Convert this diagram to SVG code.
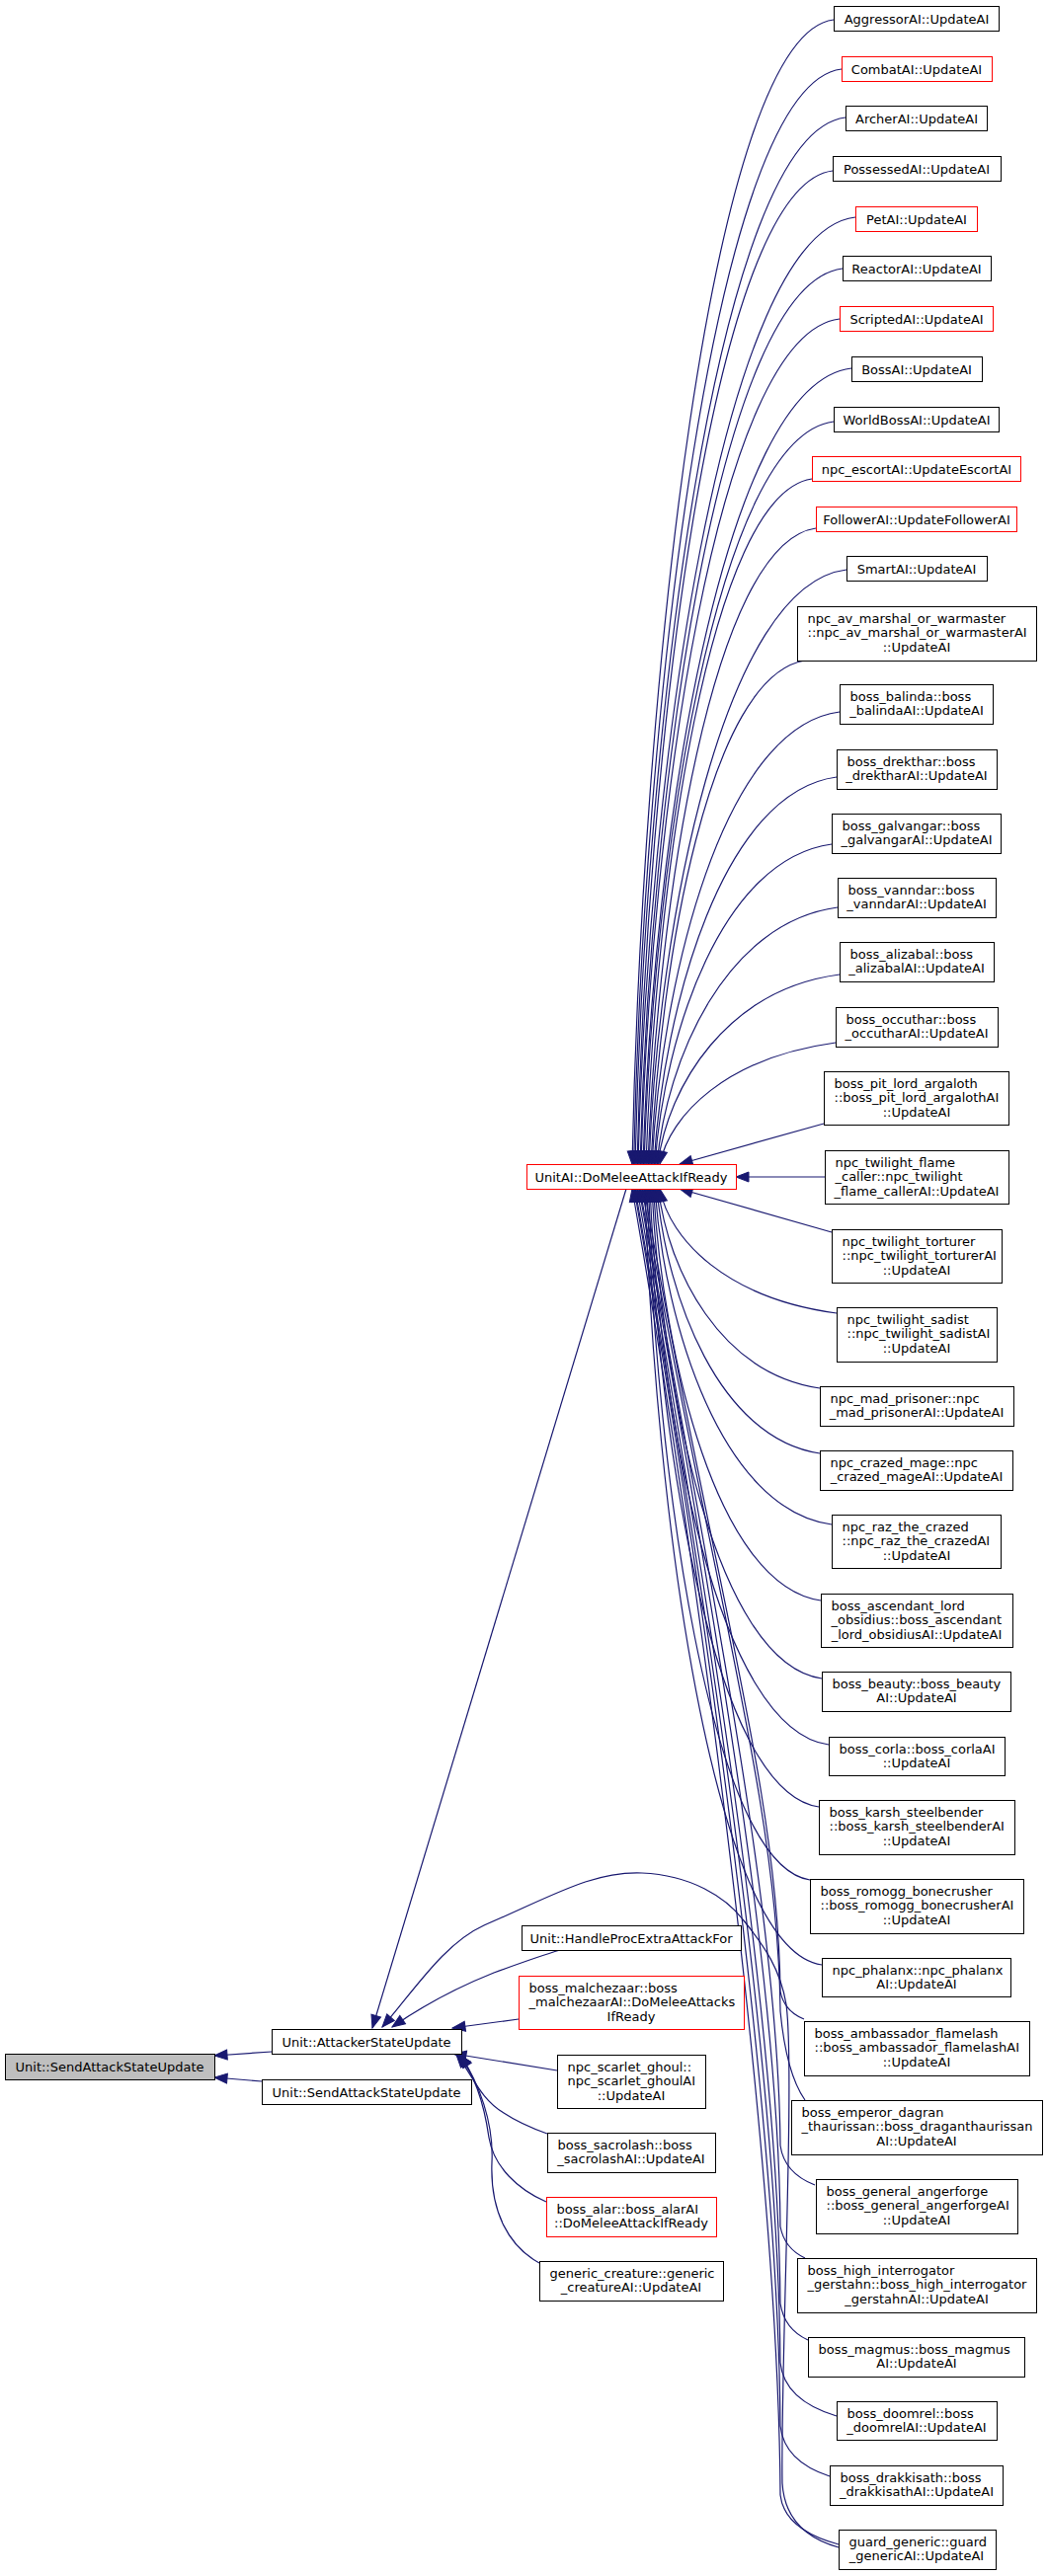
<svg xmlns="http://www.w3.org/2000/svg" width="1060" height="2609" viewBox="0 0 1060 2609">
<defs>
<marker id="ah" markerUnits="userSpaceOnUse" markerWidth="14" markerHeight="10" viewBox="0 0 14 10" refX="13" refY="5" orient="auto-start-reverse" overflow="visible">
<path d="M0,0 L13,5 L0,10 z" fill="#191970" stroke="#191970" stroke-width="1"/>
</marker>
</defs>
<style>
text{font-family:"DejaVu Sans","Liberation Sans",sans-serif;font-size:13px;fill:#000}
.t{text-anchor:middle}
.s{text-anchor:start}
.b{fill:#fff;stroke:#000;stroke-width:1}
.r{fill:#fff;stroke:#ff0000;stroke-width:1}
.g{fill:#bfbfbf;stroke:#000;stroke-width:1}
.e{fill:none;stroke:#191970;stroke-width:1.2;marker-start:url(#ah)}
</style>
<rect width="1060" height="2609" fill="#fff"/>
<g id="edges">
<path class="e" d="M640,1179 C650,704 718,35 844,20"/>
<path class="e" d="M641.6,1179 C651.6,724 722,85 852,70"/>
<path class="e" d="M643,1179 C653,744 724,134 856,119"/>
<path class="e" d="M645,1179 C655,767 720,188 843,173"/>
<path class="e" d="M646,1179 C656,786 730,235 866,220"/>
<path class="e" d="M648,1179 C658,807 726,287 853,272"/>
<path class="e" d="M649,1179 C659,828 725,338 850,323"/>
<path class="e" d="M651,1179 C661,849 731,388 862,373"/>
<path class="e" d="M652,1179 C662,871 725,442 844,427"/>
<path class="e" d="M654,1179 C664,894 718,500 822,485"/>
<path class="e" d="M656,1179 C666,915 721,550 826,535"/>
<path class="e" d="M657,1179 C667,932 733,592 857,577"/>
<path class="e" d="M659,1179 C669,970 718,684 815,669"/>
<path class="e" d="M660,1179 C670,991 732,736 850,721"/>
<path class="e" d="M662,1179 C672,1018 732,802 847,787"/>
<path class="e" d="M663,1179 C673,1046 731,870 842,855"/>
<path class="e" d="M665,1179 C675,1072 735,934 848,919"/>
<path class="e" d="M666,1179 C676,1100 736,1002 850,987"/>
<path class="e" d="M668,1179 C678,1129 736,1071 846,1056"/>
<path class="e" d="M688,1179 L834,1138"/>
<path class="e" d="M745,1192 L835,1192"/>
<path class="e" d="M688,1204 L842,1248"/>
<path class="e" d="M640,1204 C710,1604 788,2196 790,2527 Q794,2562 849,2577"/>
<path class="e" d="M642,1204 C712,1604 788,2144 790,2457 Q794,2493 840,2508"/>
<path class="e" d="M643,1204 C713,1604 788,2096 790,2393 Q794,2431 847,2447"/>
<path class="e" d="M645,1204 C715,1604 788,2051 790,2333 Q794,2359 818,2370"/>
<path class="e" d="M647,1204 C717,1604 788,1992 790,2255 Q794,2277 815,2287"/>
<path class="e" d="M648,1204 C718,1604 788,1931 790,2173 Q794,2201 825,2213"/>
<path class="e" d="M650,1204 C720,1604 788,1829 790,2037 Q796,2100 815,2127"/>
<path class="e" d="M652,1204 C722,1604 788,1814 790,2017 Q794,2037 814,2045"/>
<path class="e" d="M653,1204 C663,1526 721,1975 832,1990"/>
<path class="e" d="M655,1204 C665,1491 718,1889 820,1904"/>
<path class="e" d="M656.5,1204 C666.5,1461 722,1815 829,1830"/>
<path class="e" d="M658,1204 C668,1435 727,1752 839,1767"/>
<path class="e" d="M660,1204 C670,1407 725,1685 832,1700"/>
<path class="e" d="M661.5,1204 C671.5,1375 726,1606 831,1621"/>
<path class="e" d="M663,1204 C673,1343 731,1529 842,1544"/>
<path class="e" d="M665,1204 C675,1314 728,1457 830,1472"/>
<path class="e" d="M666.5,1204 C676.5,1287 729,1391 830,1406"/>
<path class="e" d="M668,1204 C678,1256 736,1315 847,1330"/>
<path class="e" d="M377,2054 L634,1204"/>
<path class="e" d="M387,2053 C420,2015 450,1968 490,1950 C560,1920 600,1895 650,1897 C700,1899 735,1922 752,1944 C775,1972 790,1995 796,2030 C805,2100 790,2400 792,2515 Q795,2565 849,2580"/>
<path class="e" d="M397,2053 C430,2030 470,2010 500,1998 C530,1987 550,1980 567,1975"/>
<path class="e" d="M458,2054 L525,2045"/>
<path class="e" d="M459,2080 L564,2097"/>
<path class="e" d="M462,2081 C478,2100 485,2125 510,2140 C525,2150 540,2156 554,2161"/>
<path class="e" d="M464,2081 C480,2100 490,2130 495,2165 C500,2195 525,2218 553,2230"/>
<path class="e" d="M466,2081 C485,2110 500,2150 498,2190 C496,2240 515,2275 546,2292"/>
<path class="e" d="M217,2082 L275,2078"/>
<path class="e" d="M217,2104 L265,2108"/>
</g>
<g id="n_root"><rect class="g" x="5.5" y="2080.5" width="212" height="26"/><text class="t" x="111" y="2098">Unit::SendAttackStateUpdate</text></g>
<g id="n_attacker"><rect class="b" x="275.5" y="2055.5" width="192" height="25"/><text class="t" x="371" y="2072.5">Unit::AttackerStateUpdate</text></g>
<g id="n_send2"><rect class="b" x="265.5" y="2106.5" width="212" height="25"/><text class="t" x="371" y="2123.5">Unit::SendAttackStateUpdate</text></g>
<g id="n_domelee"><rect class="r" x="533.5" y="1179.5" width="212" height="25"/><text class="t" x="639" y="1196.5">UnitAI::DoMeleeAttackIfReady</text></g>
<g id="n_handleproc"><rect class="b" x="528.5" y="1950.5" width="222" height="25"/><text class="t" x="639" y="1967.5">Unit::HandleProcExtraAttackFor</text></g>
<g id="n_malchezaar"><rect class="r" x="525.5" y="2001.5" width="228" height="54"/><text class="s" x="535.5" y="2017.5">boss_malchezaar::boss</text><text class="s" x="535.5" y="2032">_malchezaarAI::DoMeleeAttacks</text><text class="t" x="639" y="2046.5">IfReady</text></g>
<g id="n_scarlet"><rect class="b" x="564.5" y="2081.5" width="150" height="54"/><text class="s" x="574.5" y="2097.5">npc_scarlet_ghoul::</text><text class="s" x="574.5" y="2112">npc_scarlet_ghoulAI</text><text class="t" x="639" y="2126.5">::UpdateAI</text></g>
<g id="n_sacrolash"><rect class="b" x="554.5" y="2160.5" width="170" height="40"/><text class="s" x="564.5" y="2176.5">boss_sacrolash::boss</text><text class="t" x="639" y="2191">_sacrolashAI::UpdateAI</text></g>
<g id="n_alar"><rect class="r" x="553.5" y="2225.5" width="172" height="40"/><text class="s" x="563.5" y="2241.5">boss_alar::boss_alarAI</text><text class="t" x="639" y="2256">::DoMeleeAttackIfReady</text></g>
<g id="n_generic"><rect class="b" x="546.5" y="2290.5" width="186" height="40"/><text class="s" x="556.5" y="2306.5">generic_creature::generic</text><text class="t" x="639" y="2321">_creatureAI::UpdateAI</text></g>
<g id="n_aggressor"><rect class="b" x="844.5" y="6.5" width="167" height="25"/><text class="t" x="928" y="23.5">AggressorAI::UpdateAI</text></g>
<g id="n_combat"><rect class="r" x="852.5" y="57.5" width="152" height="25"/><text class="t" x="928" y="74.5">CombatAI::UpdateAI</text></g>
<g id="n_archer"><rect class="b" x="856.5" y="107.5" width="143" height="25"/><text class="t" x="928" y="124.5">ArcherAI::UpdateAI</text></g>
<g id="n_possessed"><rect class="b" x="843.5" y="158.5" width="170" height="25"/><text class="t" x="928" y="175.5">PossessedAI::UpdateAI</text></g>
<g id="n_pet"><rect class="r" x="866.5" y="209.5" width="123" height="25"/><text class="t" x="928" y="226.5">PetAI::UpdateAI</text></g>
<g id="n_reactor"><rect class="b" x="853.5" y="259.5" width="150" height="25"/><text class="t" x="928" y="276.5">ReactorAI::UpdateAI</text></g>
<g id="n_scripted"><rect class="r" x="850.5" y="310.5" width="155" height="25"/><text class="t" x="928" y="327.5">ScriptedAI::UpdateAI</text></g>
<g id="n_boss"><rect class="b" x="862.5" y="361.5" width="132" height="25"/><text class="t" x="928" y="378.5">BossAI::UpdateAI</text></g>
<g id="n_worldboss"><rect class="b" x="844.5" y="412.5" width="167" height="25"/><text class="t" x="928" y="429.5">WorldBossAI::UpdateAI</text></g>
<g id="n_escort"><rect class="r" x="822.5" y="462.5" width="211" height="25"/><text class="t" x="928" y="479.5">npc_escortAI::UpdateEscortAI</text></g>
<g id="n_follower"><rect class="r" x="826.5" y="513.5" width="203" height="25"/><text class="t" x="928" y="530.5">FollowerAI::UpdateFollowerAI</text></g>
<g id="n_smart"><rect class="b" x="857.5" y="563.5" width="142" height="25"/><text class="t" x="928" y="580.5">SmartAI::UpdateAI</text></g>
<g id="n_avmarshal"><rect class="b" x="807.5" y="614.5" width="242" height="55"/><text class="s" x="817.5" y="630.5">npc_av_marshal_or_warmaster</text><text class="s" x="817.5" y="645">::npc_av_marshal_or_warmasterAI</text><text class="t" x="928" y="659.5">::UpdateAI</text></g>
<g id="n_balinda"><rect class="b" x="850.5" y="693.5" width="155" height="40"/><text class="s" x="860.5" y="709.5">boss_balinda::boss</text><text class="t" x="928" y="724">_balindaAI::UpdateAI</text></g>
<g id="n_drekthar"><rect class="b" x="847.5" y="759.5" width="162" height="40"/><text class="s" x="857.5" y="775.5">boss_drekthar::boss</text><text class="t" x="928" y="790">_drektharAI::UpdateAI</text></g>
<g id="n_galvangar"><rect class="b" x="842.5" y="824.5" width="171" height="40"/><text class="s" x="852.5" y="840.5">boss_galvangar::boss</text><text class="t" x="928" y="855">_galvangarAI::UpdateAI</text></g>
<g id="n_vanndar"><rect class="b" x="848.5" y="889.5" width="160" height="40"/><text class="s" x="858.5" y="905.5">boss_vanndar::boss</text><text class="t" x="928" y="920">_vanndarAI::UpdateAI</text></g>
<g id="n_alizabal"><rect class="b" x="850.5" y="954.5" width="156" height="40"/><text class="s" x="860.5" y="970.5">boss_alizabal::boss</text><text class="t" x="928" y="985">_alizabalAI::UpdateAI</text></g>
<g id="n_occuthar"><rect class="b" x="846.5" y="1020.5" width="164" height="40"/><text class="s" x="856.5" y="1036.5">boss_occuthar::boss</text><text class="t" x="928" y="1051">_occutharAI::UpdateAI</text></g>
<g id="n_pitlord"><rect class="b" x="834.5" y="1085.5" width="187" height="54"/><text class="s" x="844.5" y="1101.5">boss_pit_lord_argaloth</text><text class="s" x="844.5" y="1116">::boss_pit_lord_argalothAI</text><text class="t" x="928" y="1130.5">::UpdateAI</text></g>
<g id="n_flamecaller"><rect class="b" x="835.5" y="1165.5" width="186" height="54"/><text class="s" x="845.5" y="1181.5">npc_twilight_flame</text><text class="s" x="845.5" y="1196">_caller::npc_twilight</text><text class="t" x="928" y="1210.5">_flame_callerAI::UpdateAI</text></g>
<g id="n_torturer"><rect class="b" x="842.5" y="1245.5" width="172" height="54"/><text class="s" x="852.5" y="1261.5">npc_twilight_torturer</text><text class="s" x="852.5" y="1276">::npc_twilight_torturerAI</text><text class="t" x="928" y="1290.5">::UpdateAI</text></g>
<g id="n_sadist"><rect class="b" x="847.5" y="1324.5" width="162" height="55"/><text class="s" x="857.5" y="1340.5">npc_twilight_sadist</text><text class="s" x="857.5" y="1355">::npc_twilight_sadistAI</text><text class="t" x="928" y="1369.5">::UpdateAI</text></g>
<g id="n_madprisoner"><rect class="b" x="830.5" y="1404.5" width="196" height="40"/><text class="s" x="840.5" y="1420.5">npc_mad_prisoner::npc</text><text class="t" x="928" y="1435">_mad_prisonerAI::UpdateAI</text></g>
<g id="n_crazedmage"><rect class="b" x="830.5" y="1469.5" width="195" height="40"/><text class="s" x="840.5" y="1485.5">npc_crazed_mage::npc</text><text class="t" x="928" y="1500">_crazed_mageAI::UpdateAI</text></g>
<g id="n_raz"><rect class="b" x="842.5" y="1534.5" width="171" height="54"/><text class="s" x="852.5" y="1550.5">npc_raz_the_crazed</text><text class="s" x="852.5" y="1565">::npc_raz_the_crazedAI</text><text class="t" x="928" y="1579.5">::UpdateAI</text></g>
<g id="n_obsidius"><rect class="b" x="831.5" y="1614.5" width="194" height="54"/><text class="s" x="841.5" y="1630.5">boss_ascendant_lord</text><text class="s" x="841.5" y="1645">_obsidius::boss_ascendant</text><text class="t" x="928" y="1659.5">_lord_obsidiusAI::UpdateAI</text></g>
<g id="n_beauty"><rect class="b" x="832.5" y="1693.5" width="191" height="40"/><text class="s" x="842.5" y="1709.5">boss_beauty::boss_beauty</text><text class="t" x="928" y="1724">AI::UpdateAI</text></g>
<g id="n_corla"><rect class="b" x="839.5" y="1759.5" width="178" height="39"/><text class="s" x="849.5" y="1775.5">boss_corla::boss_corlaAI</text><text class="t" x="928" y="1790">::UpdateAI</text></g>
<g id="n_karsh"><rect class="b" x="829.5" y="1823.5" width="198" height="55"/><text class="s" x="839.5" y="1839.5">boss_karsh_steelbender</text><text class="s" x="839.5" y="1854">::boss_karsh_steelbenderAI</text><text class="t" x="928" y="1868.5">::UpdateAI</text></g>
<g id="n_romogg"><rect class="b" x="820.5" y="1903.5" width="216" height="55"/><text class="s" x="830.5" y="1919.5">boss_romogg_bonecrusher</text><text class="s" x="830.5" y="1934">::boss_romogg_bonecrusherAI</text><text class="t" x="928" y="1948.5">::UpdateAI</text></g>
<g id="n_phalanx"><rect class="b" x="832.5" y="1983.5" width="191" height="39"/><text class="s" x="842.5" y="1999.5">npc_phalanx::npc_phalanx</text><text class="t" x="928" y="2014">AI::UpdateAI</text></g>
<g id="n_ambassador"><rect class="b" x="814.5" y="2047.5" width="228" height="55"/><text class="s" x="824.5" y="2063.5">boss_ambassador_flamelash</text><text class="s" x="824.5" y="2078">::boss_ambassador_flamelashAI</text><text class="t" x="928" y="2092.5">::UpdateAI</text></g>
<g id="n_emperor"><rect class="b" x="801.5" y="2127.5" width="254" height="55"/><text class="s" x="811.5" y="2143.5">boss_emperor_dagran</text><text class="s" x="811.5" y="2158">_thaurissan::boss_draganthaurissan</text><text class="t" x="928" y="2172.5">AI::UpdateAI</text></g>
<g id="n_angerforge"><rect class="b" x="826.5" y="2207.5" width="204" height="55"/><text class="s" x="836.5" y="2223.5">boss_general_angerforge</text><text class="s" x="836.5" y="2238">::boss_general_angerforgeAI</text><text class="t" x="928" y="2252.5">::UpdateAI</text></g>
<g id="n_highinterrogator"><rect class="b" x="807.5" y="2287.5" width="242" height="55"/><text class="s" x="817.5" y="2303.5">boss_high_interrogator</text><text class="s" x="817.5" y="2318">_gerstahn::boss_high_interrogator</text><text class="t" x="928" y="2332.5">_gerstahnAI::UpdateAI</text></g>
<g id="n_magmus"><rect class="b" x="818.5" y="2367.5" width="219" height="40"/><text class="s" x="828.5" y="2383.5">boss_magmus::boss_magmus</text><text class="t" x="928" y="2398">AI::UpdateAI</text></g>
<g id="n_doomrel"><rect class="b" x="847.5" y="2432.5" width="162" height="39"/><text class="s" x="857.5" y="2448.5">boss_doomrel::boss</text><text class="t" x="928" y="2463">_doomrelAI::UpdateAI</text></g>
<g id="n_drakkisath"><rect class="b" x="840.5" y="2497.5" width="175" height="40"/><text class="s" x="850.5" y="2513.5">boss_drakkisath::boss</text><text class="t" x="928" y="2528">_drakkisathAI::UpdateAI</text></g>
<g id="n_guard"><rect class="b" x="849.5" y="2562.5" width="159" height="40"/><text class="s" x="859.5" y="2578.5">guard_generic::guard</text><text class="t" x="928" y="2593">_genericAI::UpdateAI</text></g>
</svg>
